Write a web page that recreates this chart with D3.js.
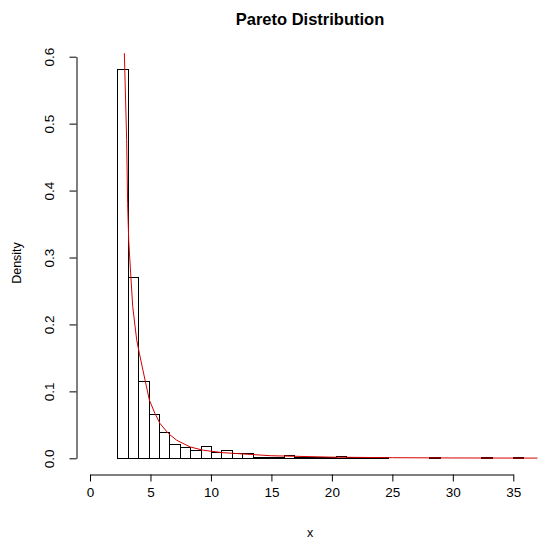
<!DOCTYPE html>
<html>
<head>
<meta charset="utf-8">
<script src="https://cdn.jsdelivr.net/npm/d3@7"></script>
<style>
  body { margin: 0; background: #fff; }
  svg { font-family: "Liberation Sans", Arial, sans-serif; }
</style>
</head>
<body>
<script>
// histogram bin edges (x) and the density of each bin
const breaks = [2.26, 3.12, 3.98, 4.84, 5.70, 6.56, 7.42, 8.28, 9.14, 10.00,
  10.86, 11.72, 12.58, 13.44, 14.30, 15.16, 16.02, 16.88, 17.74, 18.60,
  19.46, 20.32, 21.18, 22.04, 22.90, 23.76, 24.62, 25.48, 26.34, 27.20,
  28.06, 28.92, 29.78, 30.64, 31.50, 32.36, 33.22, 34.08, 34.94, 35.80];
const density = [0.582, 0.271, 0.116, 0.066, 0.039, 0.022, 0.017, 0.0125, 0.018, 0.009,
  0.012, 0.0075, 0.0075, 0.0015, 0.0012, 0.0012, 0.0045, 0.0012, 0.0012, 0.0012,
  0.0012, 0.0035, 0.0012, 0.0012, 0.0012, 0.0012, 0, 0, 0, 0,
  0.0023, 0, 0, 0, 0, 0.0023, 0, 0, 0.0023];

// red density curve
const curveX = [2.80, 2.84, 3.03, 3.11, 3.20, 3.36, 3.53, 3.86, 4.08, 4.55, 4.91, 5.37,
  5.79, 6.48, 7.17, 8.27, 9.37, 11.0, 14.9, 20, 25, 30, 37];
const curveY = [0.63, 0.605, 0.476, 0.381, 0.326, 0.277, 0.227, 0.177, 0.157, 0.117, 0.087, 0.067,
  0.052, 0.037, 0.027, 0.017, 0.012, 0.0084, 0.0039, 0.0017, 0.0009, 0.0005, 0.0003];

const xTicks = [0, 5, 10, 15, 20, 25, 30, 35];
const yTicks = [0, 0.1, 0.2, 0.3, 0.4, 0.5, 0.6];

var width = 538, height = 540;

var x = d3.scaleLinear().domain([0, 35]).range([90, 513.3]);
var y = d3.scaleLinear().domain([0, 0.6]).range([458.3, 56.7]);

var svg = d3.select('body').append('svg')
            .attr("width", width).attr("height", height);

// plot region, used to clip the curve
svg.append("clipPath").attr("id", "plotArea")
   .append("rect")
   .attr("x", 76).attr("y", 53)
   .attr("width", width - 76).attr("height", 421);

//Title
svg.append("text")
   .attr("x", 310).attr("y", 25)
   .attr("text-anchor", "middle")
   .attr("font-weight", "bold")
   .attr("font-size", "16.5px")
   .text("Pareto Distribution");

//Bars
var bins = density.map((d, i) => ({x0: breaks[i], x1: breaks[i + 1], value: d}))
                  .filter(d => d.value > 0);
svg.append("g").selectAll("rect")
   .data(bins)
   .enter()
   .append("rect")
   .attr("x", d => Math.round(x(d.x0)) + 0.5)
   .attr("y", d => Math.round(y(d.value)) + 0.5)
   .attr("width", d => Math.round(x(d.x1)) - Math.round(x(d.x0)))
   .attr("height", d => Math.round(y(0)) - Math.round(y(d.value)))
   .attr("fill", "none")
   .attr("stroke", "#000")
   .attr("stroke-width", 1);

//Curve
var line = d3.line().x(d => x(d[0])).y(d => y(d[1]));
svg.append("path")
   .datum(curveX.map((d, i) => [d, curveY[i]]))
   .attr("clip-path", "url(#plotArea)")
   .attr("d", line)
   .attr("fill", "none")
   .attr("stroke", "#d40000")
   .attr("stroke-width", 1);

//X axis
var xAxis = d3.axisBottom(x).tickValues(xTicks).tickSize(7).tickPadding(6).tickSizeOuter(0);
var gx = svg.append("g")
   .attr("transform", "translate(0,474.5)")
   .call(xAxis);
gx.select(".domain").attr("stroke", "#000");
gx.selectAll("text").attr("font-size", "13.5px").attr("font-family", null).attr("fill", "#000");

//Y axis
var yAxis = d3.axisLeft(y).tickValues(yTicks).tickFormat(d3.format(".1f"))
              .tickSize(7).tickSizeOuter(0);
var gy = svg.append("g")
   .attr("transform", "translate(76.5,0)")
   .call(yAxis);
gy.selectAll(".tick text")
  .attr("font-size", "13.5px").attr("font-family", null).attr("fill", "#000")
  .attr("text-anchor", "middle")
  .attr("x", 0).attr("dy", null)
  .attr("transform", "translate(-28,0) rotate(-90)")
  .attr("y", 5);

//Axis labels
svg.append("text")
   .attr("x", 310).attr("y", 537)
   .attr("text-anchor", "middle")
   .attr("font-size", "12.5px")
   .text("x");
svg.append("text")
   .attr("transform", "translate(21,263) rotate(-90)")
   .attr("text-anchor", "middle")
   .attr("font-size", "12.5px")
   .text("Density");
</script>
</body>
</html>
